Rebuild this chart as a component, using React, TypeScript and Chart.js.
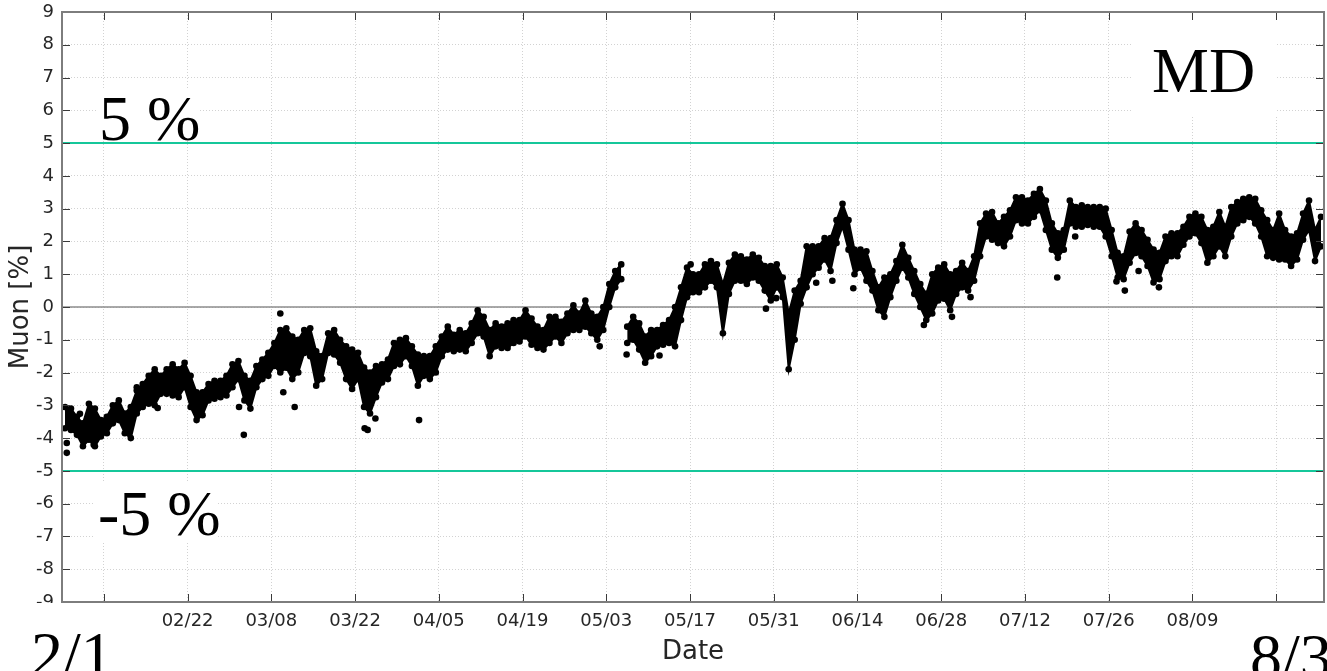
import React, { useEffect, useRef } from "react";
import { Chart, registerables } from "chart.js";

Chart.register(...registerables);

// Day index 0 = Feb 1. Daily upper / lower edge of the hourly muon scatter band [%]
const muonHigh = [
  -3.05, -3.1, -3.35, -3.55, -2.95, -3.1, -3.45, -3.35, -3.0, -2.85,
  -3.25, -3.05, -2.55, -2.35, -2.1, -1.9, -2.1, -1.9, -1.75, -1.9,
  -1.7, -2.1, -2.6, -2.6, -2.35, -2.25, -2.25, -2.1, -1.75, -1.65,
  -2.1, -2.25, -1.8, -1.6, -1.4, -1.1, -0.7, -0.65, -0.9, -1.0,
  -0.7, -0.65, -1.35, -1.5, -0.8, -0.7, -1.0, -1.2, -1.3, -1.4,
  -1.85, -2.0, -1.8, -1.75, -1.6, -1.1, -1.0, -0.95, -1.2, -1.45,
  -1.5, -1.5, -1.2, -0.9, -0.6, -0.85, -0.7, -0.8, -0.5, -0.1,
  -0.3, -0.7, -0.5, -0.6, -0.5, -0.4, -0.4, -0.1, -0.35, -0.6,
  -0.7, -0.3, -0.3, -0.45, -0.2, 0.05, -0.2, 0.2, -0.2, -0.3,
  0.0, 0.7, 1.1, 1.3, -0.6, -0.3, -0.5, -0.9, -0.7, -0.7,
  -0.55, -0.4, 0.0, 0.6, 1.2, 1.0, 1.0, 1.3, 1.4, 1.3,
  0.7, 1.35, 1.6, 1.55, 1.45, 1.6, 1.5, 1.25, 1.25, 1.3,
  0.9, -0.2, 0.5, 0.8, 1.85, 1.85, 1.85, 2.1, 2.1, 2.65,
  3.15, 2.65, 1.75, 1.75, 1.7, 1.1, 0.6, 0.9, 1.0, 1.4,
  1.9, 1.5, 1.1, 0.7, 0.4, 1.0, 1.2, 1.3, 1.0, 1.1,
  1.35, 1.1, 1.55, 2.55, 2.85, 2.9, 2.55, 2.75, 2.95, 3.35,
  3.35, 3.25, 3.45, 3.6, 3.25, 2.55, 2.25, 2.35, 3.25, 3.05,
  3.1, 3.05, 3.05, 3.05, 3.0, 2.35, 1.65, 1.55, 2.3, 2.55,
  2.35, 2.05, 1.75, 1.65, 2.15, 2.25, 2.25, 2.45, 2.75, 2.85,
  2.75, 2.35, 2.45, 2.9, 2.45, 3.05, 3.2, 3.3, 3.35, 3.3,
  2.95, 2.65, 2.35, 2.85, 2.35, 2.15, 2.25, 2.85, 3.25, 2.35,
  2.75,
];
const muonLow = [
  -3.7, -3.75, -3.9, -4.25, -4.05, -4.25, -3.95, -3.85, -3.55, -3.45,
  -3.85, -4.0, -3.25, -3.05, -2.95, -3.0, -2.65, -2.65, -2.7, -2.75,
  -2.45, -3.05, -3.45, -3.3, -2.85, -2.8, -2.75, -2.7, -2.45, -2.2,
  -2.85, -3.1, -2.45, -2.2, -2.1, -1.8, -2.0, -1.85, -2.2, -2.0,
  -1.4, -1.5, -2.4, -2.2, -1.4, -1.45, -1.7, -2.2, -2.5, -2.2,
  -3.05, -3.25, -2.75, -2.3, -2.2, -1.8, -1.75, -1.5, -1.8, -2.4,
  -2.1, -2.2, -2.0, -1.5, -1.3, -1.35, -1.3, -1.35, -1.1, -0.8,
  -0.9, -1.5, -1.2, -1.25, -1.25, -1.1, -1.05, -0.9, -1.15, -1.25,
  -1.3, -1.1, -0.9, -1.1, -0.8, -0.7, -0.7, -0.6, -0.8, -1.0,
  -0.7, 0.0, 0.6, 0.85, -1.1, -1.0, -1.3, -1.7, -1.5, -1.2,
  -1.15, -1.1, -1.2, -0.4, 0.3, 0.45, 0.45, 0.6, 0.8, 0.6,
  -0.8, 0.4, 0.8, 0.8, 0.7, 0.9, 0.8, 0.5, 0.2, 0.6,
  0.3, -1.9, -1.0, 0.1, 0.6, 1.0, 1.2, 1.45, 1.1, 1.95,
  2.45, 1.75, 1.0, 1.2, 0.8, 0.5, -0.1, -0.3, 0.3, 0.8,
  1.2, 0.9, 0.4, 0.0, -0.4, -0.2, 0.2, 0.25, -0.1, 0.4,
  0.6, 0.5, 0.8, 1.55, 2.15, 2.05, 1.95, 1.85, 2.15, 2.65,
  2.55, 2.55, 2.75, 2.95, 2.35, 1.75, 1.5, 1.75, 2.55, 2.45,
  2.45, 2.5, 2.45, 2.45, 2.15, 1.55, 0.9, 0.85, 1.35, 1.65,
  1.55, 1.25, 0.75, 0.85, 1.4, 1.55, 1.55, 1.9, 2.15, 2.25,
  1.95, 1.35, 1.55, 1.85, 1.55, 2.15, 2.55, 2.65, 2.75, 2.55,
  2.15, 1.55, 1.5, 1.45, 1.45, 1.25, 1.45, 2.05, 2.35, 1.4,
  1.85,
];
// data gap (no measurements) between these two days
const gapAfterDay = 93;

// isolated points away from the band
const outlierDays = [
  0.8, 0.8, 3.0, 5.3, 12.5, 16.0, 29.6, 30.4, 36.5, 37.0, 38.9, 50.6, 51.1,
  52.4, 59.7, 89.9, 94.4, 99.9, 105.1, 117.7, 119.4, 126.1, 128.8, 132.3,
  144.1, 148.8, 151.9, 166.4, 169.4, 176.3, 177.7, 180.0, 183.4,
];
const outlierValues = [
  -4.15, -4.45, -3.26, -4.2, -2.45, -3.08, -3.05, -3.9, -0.2, -2.6, -3.05, -3.7,
  -3.75, -3.4, -3.45, -1.2, -1.45, -1.48, 1.3, -0.05, 0.27, 0.74, 0.8, 0.57,
  -0.55, -0.3, 0.3, 0.9, 2.15, 0.78, 0.5, 1.1, 0.6,
];

const xDomain = [0, 211]; // Feb 1 .. Aug 31
const tickDays = [7, 21, 35, 49, 63, 77, 91, 105, 119, 133, 147, 161, 175, 189, 203];
const tickLabels = [
  "", "02/22", "03/08", "03/22", "04/05", "04/19", "05/03", "05/17",
  "05/31", "06/14", "06/28", "07/12", "07/26", "08/09", "",
];
const yTicks = [-9, -8, -7, -6, -5, -4, -3, -2, -1, 0, 1, 2, 3, 4, 5, 6, 7, 8, 9];
const limitValues = [5, -5];
const limitLabels = ["5 %", "-5 %"];
const stationLabel = "MD";
const rangeLabels = ["2/1", "8/31"];

const SANS = "'DejaVu Sans', sans-serif";
const SERIF = "'Liberation Serif', 'Times New Roman', serif";

function bandPoints(values: number[]) {
  const pts: { x: number; y: number | null }[] = [];
  values.forEach((v, d) => {
    pts.push({ x: d + 0.5, y: v });
    if (d === gapAfterDay) pts.push({ x: d + 1, y: null });
  });
  return pts;
}

const decorPlugin = {
  id: "decor",
  afterDraw(chart: any) {
    const { ctx, chartArea, scales } = chart;
    const { left, right, top, bottom } = chartArea;
    const x = scales.x;
    const y = scales.y;
    ctx.save();
    // text boxes (white filled)
    ctx.fillStyle = "#ffffff";
    ctx.fillRect(96, 90, 104, 51);
    ctx.fillRect(95, 481, 123, 60);
    ctx.fillRect(1132, 17, 145, 100);

    // inward tick marks on all four sides
    ctx.strokeStyle = "#3a3a3a";
    ctx.lineWidth = 1;
    ctx.beginPath();
    for (const d of tickDays) {
      const px = Math.round(x.getPixelForValue(d)) + 0.5;
      ctx.moveTo(px, bottom);
      ctx.lineTo(px, bottom - 8);
      ctx.moveTo(px, top);
      ctx.lineTo(px, top + 8);
    }
    for (const v of yTicks) {
      const py = Math.round(y.getPixelForValue(v)) + 0.5;
      ctx.moveTo(left, py);
      ctx.lineTo(left + 8, py);
      ctx.moveTo(right, py);
      ctx.lineTo(right - 8, py);
    }
    ctx.stroke();
    // axes box
    ctx.strokeStyle = "#7d7d7d";
    ctx.lineWidth = 2;
    ctx.strokeRect(left, top, right - left, bottom - top);
    // figure crop hides lower half of the "-9" label
    ctx.fillStyle = "#ffffff";
    ctx.fillRect(0, bottom + 1, left - 2, 22);

    ctx.fillStyle = "#000000";
    ctx.textBaseline = "alphabetic";
    ctx.textAlign = "left";
    ctx.font = `64px ${SERIF}`;
    ctx.fillText(limitLabels[0], 99, 140);
    ctx.fillText(limitLabels[1], 98, 535);
    ctx.fillText(stationLabel, 1152, 92);
    ctx.fillText(rangeLabels[0], 31, 676);
    ctx.fillText(rangeLabels[1], 1250, 678);
    ctx.restore();
  },
};

export default function App() {
  const canvasRef = useRef<HTMLCanvasElement | null>(null);

  useEffect(() => {
    const canvas = canvasRef.current;
    if (!canvas) return;
    const limitColor = "#15c79a";
    const dot = 3.3;
    const chart = new Chart(canvas, {
      type: "scatter",
      data: {
        datasets: [
          {
            label: "upper",
            data: bandPoints(muonHigh),
            showLine: true,
            borderColor: "#000",
            borderWidth: 2,
            backgroundColor: "#000",
            pointRadius: dot,
            pointBackgroundColor: "#000",
            pointBorderWidth: 0,
            fill: "+1",
            tension: 0,
            order: 1,
          },
          {
            label: "lower",
            data: bandPoints(muonLow),
            showLine: true,
            borderColor: "#000",
            borderWidth: 2,
            backgroundColor: "#000",
            pointRadius: dot,
            pointBackgroundColor: "#000",
            pointBorderWidth: 0,
            fill: false,
            tension: 0,
            order: 1,
          },
          {
            label: "outliers",
            data: outlierDays.map((d, i) => ({ x: d, y: outlierValues[i] })),
            pointRadius: dot,
            pointBackgroundColor: "#000",
            pointBorderWidth: 0,
            order: 0,
          },
          {
            label: "+5",
            data: xDomain.map((d) => ({ x: d, y: limitValues[0] })),
            showLine: true,
            borderColor: limitColor,
            borderWidth: 2,
            pointRadius: 0,
            fill: false,
            order: 2,
          },
          {
            label: "-5",
            data: xDomain.map((d) => ({ x: d, y: limitValues[1] })),
            showLine: true,
            borderColor: limitColor,
            borderWidth: 2,
            pointRadius: 0,
            fill: false,
            order: 2,
          },
          {
            label: "zero",
            data: xDomain.map((d) => ({ x: d, y: 0 })),
            showLine: true,
            borderColor: "#8c8c8c",
            borderWidth: 1.5,
            pointRadius: 0,
            fill: false,
            order: 3,
          },
        ],
      },
      options: {
        responsive: false,
        animation: false,
        devicePixelRatio: 1,
        layout: { padding: { top: 12, left: 0, right: 0, bottom: 0 } },
        plugins: {
          legend: { display: false },
          tooltip: { enabled: false },
        },
        scales: {
          x: {
            type: "linear",
            min: xDomain[0],
            max: xDomain[1],
            afterBuildTicks: (scale: any) => {
              scale.ticks = tickDays.map((v) => ({ value: v }));
            },
            afterFit: (scale: any) => {
              scale.height = 69;
              scale.paddingLeft = 0;
              scale.paddingRight = 0;
            },
            ticks: {
              autoSkip: false,
              maxRotation: 0,
              padding: 9,
              color: "#262626",
              font: { family: SANS, size: 18 },
              callback: (_v: any, i: number) => tickLabels[i],
            },
            grid: {
              color: "#d2d2d2",
              lineWidth: 1,
              drawTicks: false,
            },
            border: { display: false, dash: [1, 2] },
            title: {
              display: true,
              text: "Date",
              color: "#262626",
              font: { family: SANS, size: 26 },
              padding: { top: 0, bottom: 3 },
            },
          },
          y: {
            type: "linear",
            min: -9,
            max: 9,
            afterBuildTicks: (scale: any) => {
              scale.ticks = yTicks.map((v) => ({ value: v }));
            },
            afterFit: (scale: any) => {
              scale.width = 62;
              scale.paddingTop = 0;
              scale.paddingBottom = 0;
            },
            ticks: {
              autoSkip: false,
              padding: 8,
              color: "#262626",
              font: { family: SANS, size: 18 },
              callback: (v: any) => String(v),
            },
            grid: {
              color: "#d2d2d2",
              lineWidth: 1,
              drawTicks: false,
            },
            border: { display: false, dash: [1, 2] },
            title: {
              display: true,
              text: "Muon [%]",
              color: "#262626",
              font: { family: SANS, size: 26 },
              padding: { top: 6, bottom: 0 },
            },
          },
        },
      },
      plugins: [decorPlugin],
    } as any);
    return () => chart.destroy();
  }, []);

  return (
    <div
      style={{
        position: "absolute",
        left: 0,
        top: 0,
        width: 1327,
        height: 671,
        overflow: "hidden",
        background: "#fff",
      }}
    >
      <canvas ref={canvasRef} width={1328} height={671} style={{ width: 1328, height: 671, display: "block" }} />
    </div>
  );
}
